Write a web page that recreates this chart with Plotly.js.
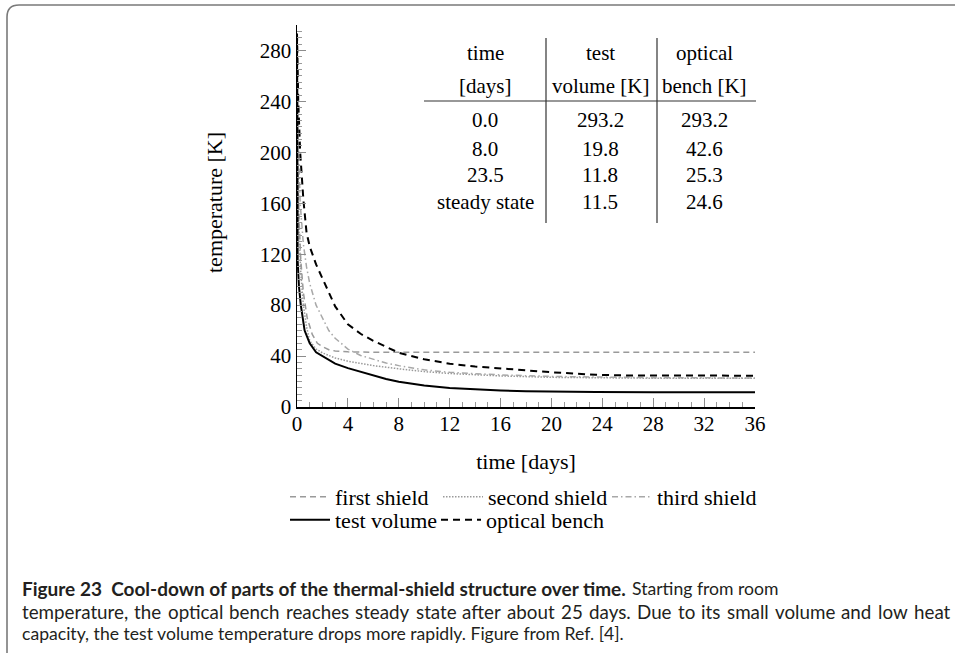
<!DOCTYPE html>
<html>
<head>
<meta charset="utf-8">
<script src="https://cdn.plot.ly/plotly-3.0.1.min.js"></script>
<style>
html,body{margin:0;padding:0;background:#fff;}
#chart{width:955px;height:653px;}
</style>
</head>
<body>
<div id="chart"></div>
<script>
// ---------------- data ----------------
const firstShieldX  = [0, 0.05, 0.15, 0.3, 0.5, 0.8, 1.2, 1.6, 2, 2.5, 3, 4, 6, 10, 20, 36];
const firstShieldY  = [293.2, 200, 150, 115, 90, 70, 57, 50, 47.5, 45, 44, 43.3, 43, 43, 43, 43];

const secondShieldX = [0, 0.05, 0.15, 0.3, 0.5, 0.75, 1, 1.5, 2, 3, 4, 5, 6, 8, 10, 12, 14, 16, 20, 24, 28, 36];
const secondShieldY = [293.2, 190, 140, 105, 80, 63, 52, 45.5, 42.5, 38.5, 36, 34.2, 32.5, 30, 27.8, 26.3, 25.2, 24.4, 23.3, 22.8, 22.6, 22.5];

const thirdShieldX  = [0, 0.1, 0.25, 0.5, 0.75, 1, 1.5, 2, 2.5, 3, 4, 5, 6, 7, 8, 10, 12, 14, 16, 20, 24, 28, 36];
const thirdShieldY  = [293.2, 210, 160, 128, 110, 97, 80, 70, 60, 54, 45.5, 40.5, 37.5, 34.5, 32.5, 29.2, 27.2, 26, 25.2, 24, 23.3, 23, 22.8];

const testVolumeX   = [0, 0.02, 0.05, 0.15, 0.3, 0.6, 1, 1.5, 2, 3, 4, 5, 6, 7, 8, 10, 12, 14, 16, 18, 20, 23.5, 28, 36];
const testVolumeY   = [293.2, 200, 115, 95, 80, 60, 50, 43, 40, 34, 30.5, 27.5, 24.5, 22, 19.8, 16.8, 15, 13.8, 13, 12.4, 12.1, 11.8, 11.6, 11.5];

const benchX        = [0, 0.1, 0.25, 0.5, 0.75, 1, 1.5, 2, 2.5, 3, 4, 5, 6, 7, 8, 10, 12, 14, 16, 18, 20, 22, 23.5, 26, 30, 36];
const benchY        = [293.2, 240, 200, 163, 137, 126, 112, 101, 90, 79, 65, 57.5, 52, 47.5, 42.6, 37.5, 34, 31.8, 30.5, 28.8, 27.3, 26, 25.3, 24.8, 24.6, 24.6];

const seriesNames = ["first shield", "second shield", "third shield", "test volume", "optical bench"];

const xTickVals = [0, 4, 8, 12, 16, 20, 24, 28, 32, 36];
const yTickVals = [0, 40, 80, 120, 160, 200, 240, 280];

// table contents
const tableHeader1 = ["time", "test", "optical"];
const tableHeader2 = ["[days]", "volume [K]", "bench [K]"];
const tableTime    = ["0.0", "8.0", "23.5", "steady state"];
const tableTestVol = [293.2, 19.8, 11.8, 11.5];
const tableBench   = [293.2, 42.6, 25.3, 24.6];

const captionBold  = "Figure 23\u00a0 Cool-down of parts of the thermal-shield structure over time.";
const captionLine1 = "Starting from room";
const captionLine2 = "temperature, the optical bench reaches steady state after about 25 days. Due to its small volume and low heat";
const captionLine3 = "capacity, the test volume temperature drops more rapidly. Figure from Ref. [4].";

// ---------------- layout helpers ----------------
const FW = 955, FH = 653;
const L = 297, T = 25, W = 458, H = 382;
const px2x = p => (p - L) / W;
const py2y = p => (T + H - p) / H;
const SERIF = "Liberation Serif, Times New Roman, serif";
const SANS = "Lato, Open Sans, sans-serif";
const TXT = 22;   // words
const TAB = 21;   // table
const CAP = 17.6; // caption size
const CAP2 = 18.8; // caption justified line
const CAPB = 19;  // caption bold lead

const gray = "#9a9a9a";
const styles = [
  {color: gray, width: 1.5, dash: "6px,4px"},
  {color: gray, width: 1.5, dash: "1.5px,1.5px"},
  {color: "#a8a8a8", width: 1.5, dash: "6px,3px,1.5px,3px"},
  {color: "#000", width: 2, dash: "solid"},
  {color: "#000", width: 2, dash: "7px,5px"}
];
const xs = [firstShieldX, secondShieldX, thirdShieldX, testVolumeX, benchX];
const ys = [firstShieldY, secondShieldY, thirdShieldY, testVolumeY, benchY];
const legendIds = ["legend", "legend2", "legend3", "legend4", "legend5"];
// legend sample start (px) and row centre (px)
const legendPos = [[290, 497], [443, 497], [612, 497], [290, 520], [441, 520]];

const traces = seriesNames.map((n, i) => ({
  type: "scatter", mode: "lines", name: n,
  x: xs[i], y: ys[i], line: styles[i],
  legend: legendIds[i], showlegend: true, hoverinfo: "skip"
}));

const layout = {
  width: FW, height: FH,
  margin: {l: L, r: FW - L - W, t: T, b: FH - T - H, autoexpand: false},
  paper_bgcolor: "#fff", plot_bgcolor: "#fff",
  font: {family: SERIF, size: TXT, color: "#000"},
  xaxis: {
    range: [0, 36], tickvals: xTickVals, ticks: "inside", ticklen: 9, tickwidth: 1, tickcolor: "#8c8c8c",
    showgrid: false, zeroline: false, showline: true, linecolor: "#000", linewidth: 1.5,
    tickfont: {family: SERIF, size: 21, color: "#000"}, ticklabelstandoff: -3,
    minor: {dtick: 1, ticks: "inside", ticklen: 5, tickwidth: 1, tickcolor: "#9a9a9a", showgrid: false},
    title: {text: "time [days]", font: {family: SERIF, size: TXT, color: "#000"}, standoff: 19},
    fixedrange: true
  },
  yaxis: {
    range: [0, 300], tickvals: yTickVals, ticks: "inside", ticklen: 9, tickwidth: 1, tickcolor: "#8c8c8c",
    showgrid: false, zeroline: false, showline: true, linecolor: "#000", linewidth: 1.5,
    tickfont: {family: SERIF, size: 21, color: "#000"},
    minor: {dtick: 5, ticks: "inside", ticklen: 5, tickwidth: 1, tickcolor: "#9a9a9a", showgrid: false},
    fixedrange: true
  },
  annotations: [],
  shapes: []
};

legendIds.forEach((id, i) => {
  layout[id] = {
    x: px2x(legendPos[i][0] - 5), y: py2y(legendPos[i][1]),
    xanchor: "left", yanchor: "middle", orientation: "h",
    bgcolor: "rgba(0,0,0,0)", borderwidth: 0, itemwidth: 40,
    font: {family: SERIF, size: TXT, color: "#000"}
  };
});

function ann(text, px, py, opts) {
  layout.annotations.push(Object.assign({
    text: text, xref: "paper", yref: "paper", x: px2x(px), y: py2y(py),
    xanchor: "center", yanchor: "middle", showarrow: false,
    font: {family: SERIF, size: TAB, color: "#000"}
  }, opts || {}));
}

// y axis title
ann("temperature [K]", 214, 203, {textangle: -90, font: {family: SERIF, size: TXT, color: "#000"}});

// table
const colX = [485, 600, 704];
const headRowY = [53, 86];
const dataRowY = [120, 149, 175, 202];
tableHeader1.forEach((t, j) => ann(t, colX[j], headRowY[0]));
tableHeader2.forEach((t, j) => ann(t, colX[j], headRowY[1]));
tableTime.forEach((t, r) => {
  ann(t, colX[0], dataRowY[r]);
  ann(tableTestVol[r].toFixed(1), colX[1], dataRowY[r]);
  ann(tableBench[r].toFixed(1), colX[2], dataRowY[r]);
});
const line = (x0, y0, x1, y1, c, w) => layout.shapes.push({
  type: "line", xref: "paper", yref: "paper",
  x0: px2x(x0), y0: py2y(y0), x1: px2x(x1), y1: py2y(y1),
  line: {color: c, width: w}
});
line(424, 101, 756, 101, "#333", 1.2);
line(546, 38, 546, 223, "#333", 1.2);
line(657, 38, 657, 223, "#333", 1.2);

// caption
const capColor = "#231f20";
const ctx = document.createElement("canvas").getContext("2d");
function textW(t, size, bold) {
  ctx.font = (bold ? "bold " : "") + size + "px Lato";
  return ctx.measureText(t).width;
}
const capLeft = 20, capRight = 948;
const capY = [588, 611, 633];
function capAnn(t, px, py, size) {
  layout.annotations.push({
    text: t, xref: "paper", yref: "paper", x: px2x(px), y: py2y(py),
    xanchor: "left", yanchor: "middle", showarrow: false, align: "left",
    font: {family: SANS, size: size, color: capColor}
  });
}
// line 1: bold lead + regular text
capAnn("<b>" + captionBold + "</b>", capLeft, capY[0], CAPB);
const boldW = textW(captionBold, CAPB, true);
capAnn(captionLine1, capLeft + boldW + 5, capY[0], CAP);
// line 2: justified across the caption width
const words2 = captionLine2.split(" ");
const w2 = words2.map(w => textW(w, CAP2, false));
const gap2 = (capRight - capLeft - w2.reduce((a, b) => a + b, 0)) / (words2.length - 1);
let cx = capLeft;
words2.forEach((w, i) => { capAnn(w, cx, capY[1], CAP2); cx += w2[i] + gap2; });
// line 3
capAnn(captionLine3, capLeft, capY[2], CAP);

// frame (rounded top-left corner)
const fx = v => px2x(v), fy = v => py2y(v);
layout.shapes.push({
  type: "path", xref: "paper", yref: "paper",
  path: `M ${fx(7)} ${fy(653)} L ${fx(7)} ${fy(17)} Q ${fx(7)} ${fy(5)} ${fx(19)} ${fy(5)} L ${fx(955)} ${fy(5)}`,
  line: {color: "#7a7a7a", width: 1.6}
});

Plotly.newPlot("chart", traces, layout, {staticPlot: true, displayModeBar: false});
</script>
</body>
</html>
